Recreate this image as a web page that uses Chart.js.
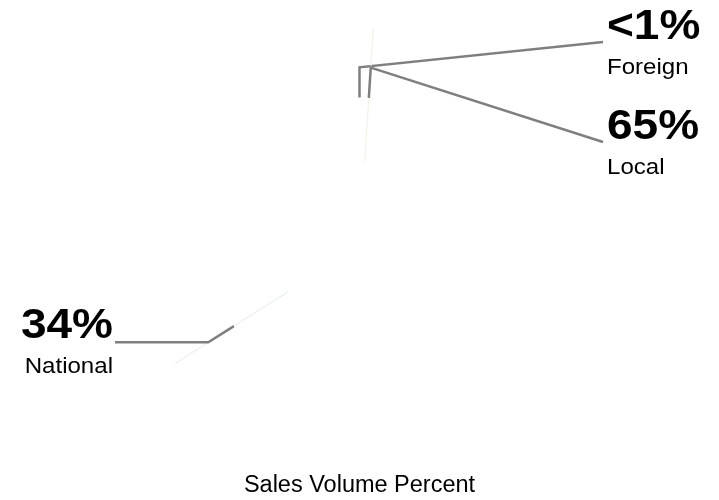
<!DOCTYPE html>
<html>
<head>
<meta charset="utf-8">
<title>Sales Volume Percent</title>
<script src="https://cdn.jsdelivr.net/npm/chart.js@4.4.0/dist/chart.umd.min.js"></script>
<style>
  html, body { margin: 0; padding: 0; background: #fff; }
  #wrap { width: 719px; height: 500px; }
</style>
</head>
<body>
<div id="wrap"><canvas id="salesChart"></canvas></div>
<script>
// --- data ---
const categories = ['Foreign', 'Local', 'National'];
const salesShare = [1, 65, 34];
const shareLabels = ['<1%', '65%', '34%'];

const FONT = '"Liberation Sans", Arial, Helvetica, sans-serif';

// where each callout line ends / label sits (layout only)
const calloutLayout = [
    { side: 'right', x: 603, y: 42, level: false },
    { side: 'right', x: 603, y: 142, level: false },
    { side: 'left', x: 115, y: 341, level: true }
];
const seamColors = [null, '#f1f1df', '#e4ece8'];
const leaderColor = '#7f7f7f';

// Draws the faint slice seams and the callout lines + labels
const calloutPlugin = {
    id: 'callouts',
    afterDatasetsDraw(chart) {
        const ctx = chart.ctx;
        const arcs = chart.getDatasetMeta(0).data;

        arcs.forEach((arc, i) => {
            const { x, y, startAngle, innerRadius, outerRadius } =
                arc.getProps(['x', 'y', 'startAngle', 'innerRadius', 'outerRadius'], true);
            const cos = Math.cos(startAngle);
            const sin = Math.sin(startAngle);

            ctx.save();

            // faint seam where this slice begins (not drawn for the first one)
            if (i > 0) {
                ctx.strokeStyle = seamColors[i];
                ctx.lineWidth = 1;
                ctx.beginPath();
                ctx.moveTo(x + cos * innerRadius, y + sin * innerRadius);
                ctx.lineTo(x + cos * outerRadius, y + sin * outerRadius);
                ctx.stroke();
            }

            // leader: radial stub from the ring middle, then to the label
            const rStart = (innerRadius + outerRadius) / 2 - 3;
            const rElbow = outerRadius * 0.82;
            const pos = calloutLayout[i];
            const ex = x + cos * rElbow;
            const ey = y + sin * rElbow;
            const endY = pos.level ? ey : pos.y;
            ctx.strokeStyle = leaderColor;
            ctx.lineWidth = 2.5;
            ctx.beginPath();
            ctx.moveTo(x + cos * rStart, y + sin * rStart);
            ctx.lineTo(ex, ey);
            ctx.lineTo(pos.x, endY);
            ctx.stroke();

            // label text (slightly widened to match the original face)
            const right = pos.side === 'right';
            const tx = right ? pos.x + 4 : pos.x - 2;
            ctx.fillStyle = '#000';
            ctx.textAlign = right ? 'left' : 'right';
            ctx.textBaseline = 'alphabetic';
            ctx.translate(tx, 0);
            ctx.scale(1.07, 1);
            ctx.font = 'bold 43px ' + FONT;
            ctx.fillText(shareLabels[i], 0, pos.y - 3);
            ctx.font = '22.5px ' + FONT;
            ctx.fillText(categories[i], 0, pos.y + 32);

            ctx.restore();
        });
    }
};

new Chart(document.getElementById('salesChart'), {
    type: 'doughnut',
    data: {
        labels: categories,
        datasets: [{
            data: salesShare,
            backgroundColor: '#ffffff',
            borderWidth: 0,
            hoverOffset: 0
        }]
    },
    options: {
        responsive: true,
        maintainAspectRatio: false,
        animation: false,
        cutout: '39%',
        layout: { padding: { top: 28 } },
        plugins: {
            legend: { display: false },
            tooltip: { enabled: false },
            title: {
                display: true,
                position: 'bottom',
                text: 'Sales Volume Percent',
                color: '#000',
                font: { family: FONT, size: 23.5, weight: 'normal' },
                padding: { top: 7, bottom: 0 }
            }
        }
    },
    plugins: [calloutPlugin]
});
</script>
</body>
</html>
